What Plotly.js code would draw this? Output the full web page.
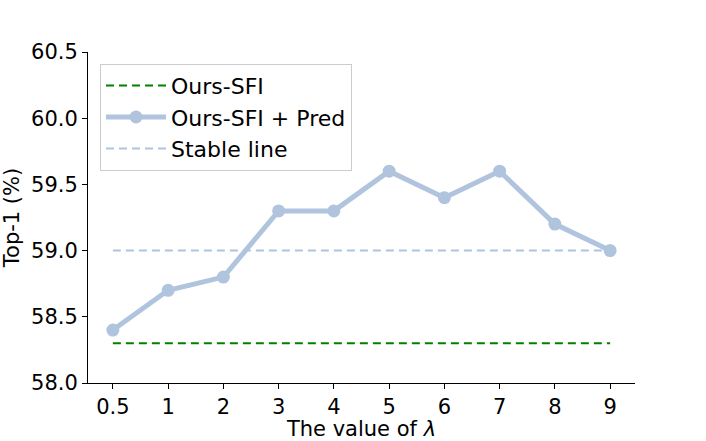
<!DOCTYPE html>
<html>
<head>
<meta charset="utf-8">
<script src="https://cdn.plot.ly/plotly-3.0.1.min.js"></script>
<style>
  body { margin: 0; background: #fff; }
  #chart { width: 706px; height: 441px; }
</style>
</head>
<body>
<div id="chart"></div>
<script>
const lambdas = ['0.5', '1', '2', '3', '4', '5', '6', '7', '8', '9'];
const predTop1 = [58.4, 58.7, 58.8, 59.3, 59.3, 59.6, 59.4, 59.6, 59.2, 59.0];
const sfiTop1 = [58.3, 58.3, 58.3, 58.3, 58.3, 58.3, 58.3, 58.3, 58.3, 58.3];
const stableTop1 = [59.0, 59.0, 59.0, 59.0, 59.0, 59.0, 59.0, 59.0, 59.0, 59.0];
const yTicks = [58.0, 58.5, 59.0, 59.5, 60.0, 60.5];

const sfi = {
  x: lambdas,
  y: sfiTop1,
  mode: 'lines',
  name: 'Ours-SFI',
  legendrank: 1,
  line: { color: '#008000', width: 2, dash: '8px,5px' }
};

const pred = {
  x: lambdas,
  y: predTop1,
  mode: 'lines+markers',
  name: 'Ours-SFI + Pred',
  legendrank: 2,
  line: { color: '#b0c4de', width: 5 },
  marker: { color: '#b0c4de', size: 13 }
};

const stable = {
  x: lambdas,
  y: stableTop1,
  mode: 'lines',
  name: 'Stable line',
  legendrank: 3,
  line: { color: '#b0c4de', width: 2, dash: '8px,5px' }
};

const data = [sfi, stable, pred];

var layout = {
  width: 706,
  height: 441,
  margin: { l: 88, r: 71, t: 52, b: 58 },
  plot_bgcolor: '#fff',
  paper_bgcolor: '#fff',
  font: { family: 'DejaVu Sans, sans-serif', size: 21, color: '#000' },
  xaxis: {
    type: 'category',
    range: [-0.45, 9.45],
    showgrid: false,
    zeroline: false,
    showline: true,
    linecolor: '#000',
    linewidth: 1,
    ticks: 'outside',
    ticklen: 5,
    tickcolor: '#000',
    title: { text: 'The value of <i>λ</i>', font: { size: 21 }, standoff: 2 }
  },
  yaxis: {
    range: [58.0, 60.5],
    tickvals: yTicks,
    ticktext: yTicks.map(v => v.toFixed(1)),
    showgrid: false,
    zeroline: false,
    showline: true,
    linecolor: '#000',
    linewidth: 1,
    ticks: 'outside',
    ticklen: 5,
    tickcolor: '#000',
    title: { text: 'Top-1 (%)', font: { size: 21 }, standoff: 7 }
  },
  showlegend: true,
  legend: {
    x: 0.022,
    y: 0.965,
    xanchor: 'left',
    yanchor: 'top',
    traceorder: 'normal',
    itemwidth: 60,
    bgcolor: 'rgba(255,255,255,0.8)',
    bordercolor: '#cccccc',
    borderwidth: 1,
    font: { size: 22 }
  }
};

var config = { responsive: false, displayModeBar: false };

Plotly.newPlot('chart', data, layout, config);
</script>
</body>
</html>
